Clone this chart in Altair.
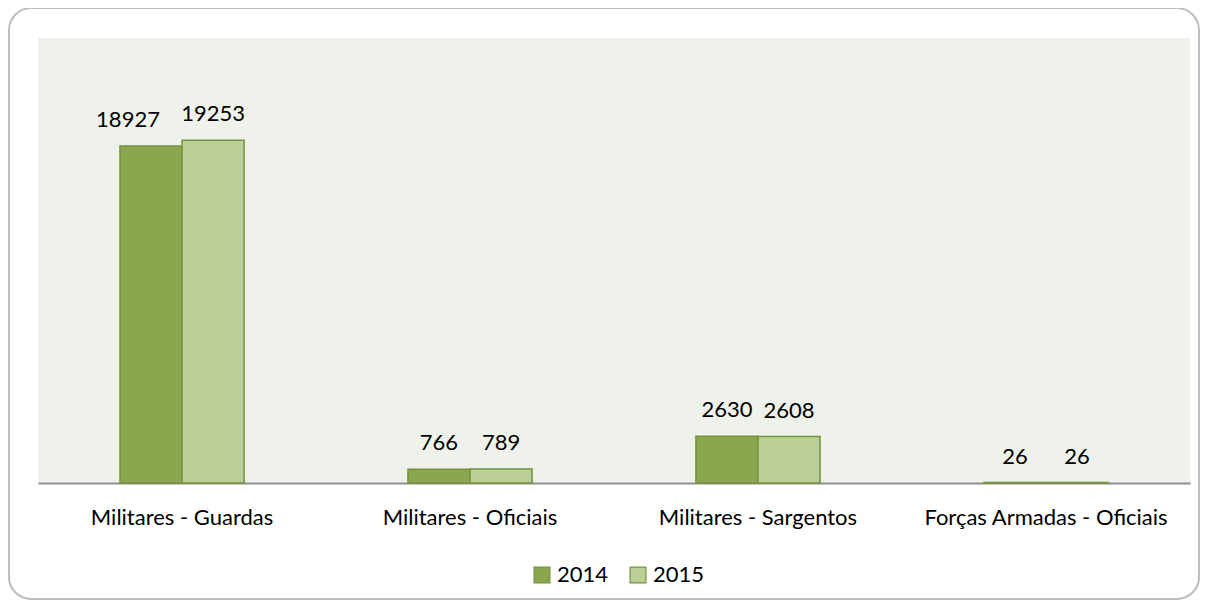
import altair as alt
import pandas as pd

categories = ["Militares - Guardas", "Militares - Oficiais", "Militares - Sargentos", "Forças Armadas - Oficiais"]
values_2014 = [18927, 766, 2630, 26]
values_2015 = [19253, 789, 2608, 26]
years = ["2014", "2015"]

rows = []
for c, a, b in zip(categories, values_2014, values_2015):
    rows.append({"cat": c, "year": "2014", "value": a})
    rows.append({"cat": c, "year": "2015", "value": b})
df = pd.DataFrame(rows)

FONT = "Lato"
FS = 22
W, H = 1152, 445

x_enc = alt.X("cat:N", sort=categories, title=None,
              scale=alt.Scale(paddingInner=0.569, paddingOuter=0.2847),
              axis=alt.Axis(labelAngle=0, ticks=False, domainColor="#8E8E8E", domainWidth=2,
                            labelFont=FONT, labelFontSize=FS, labelColor="#000000",
                            labelPadding=24, labelLimit=0, grid=False))
xo_enc = alt.XOffset("year:N", sort=years)
y_enc = alt.Y("value:Q", scale=alt.Scale(domain=[0, 25000], nice=False), axis=None)

color_enc = alt.Color("year:N", sort=years,
                      scale=alt.Scale(domain=years, range=["#8AA64F", "#BAD098"]),
                      legend=alt.Legend(title=None, orient="none", legendX=493, legendY=526,
                                        direction="horizontal", symbolType="square", symbolSize=250,
                                        symbolStrokeColor="#76923C", symbolStrokeWidth=1.2,
                                        labelFont=FONT, labelFontSize=FS, labelColor="#000000",
                                        columnPadding=18, labelOffset=4))

base = alt.Chart(df)

bars = base.mark_bar(stroke="#76923C", strokeWidth=1.5).encode(
    x=x_enc, xOffset=xo_enc, y=y_enc, color=color_enc
)

labels = base.mark_text(baseline="alphabetic", dy=-19, font=FONT, fontSize=FS, color="#000000").encode(
    x=x_enc, xOffset=xo_enc, y=y_enc, text=alt.Text("value:Q", format="d")
).transform_filter(
    (alt.datum.cat != categories[0]) | (alt.datum.year != "2014")
)

label_shift = base.mark_text(baseline="alphabetic", dy=-19, dx=-23, font=FONT, fontSize=FS, color="#000000").encode(
    x=x_enc, xOffset=xo_enc, y=y_enc, text=alt.Text("value:Q", format="d")
).transform_filter(
    (alt.datum.cat == categories[0]) & (alt.datum.year == "2014")
)

frame = alt.Chart(pd.DataFrame({"k": [0]})).mark_rect(
    fill=None, fillOpacity=0, stroke="#BDBDBD", strokeWidth=2, cornerRadius=22, clip=False
).encode(
    x=alt.value(-29), x2=alt.value(1161), y=alt.value(-30), y2=alt.value(561)
)

chart = alt.layer(frame, bars, labels, label_shift).properties(
    width=W, height=H,
    padding={"left": 30, "top": 30, "right": 10, "bottom": 117},
    autosize=alt.AutoSizeParams(type="none"),
    background="white"
).configure_view(fill="#EFF2EA", stroke=None)

chart.save("out.html", embed_options={"renderer": "svg", "actions": False})
